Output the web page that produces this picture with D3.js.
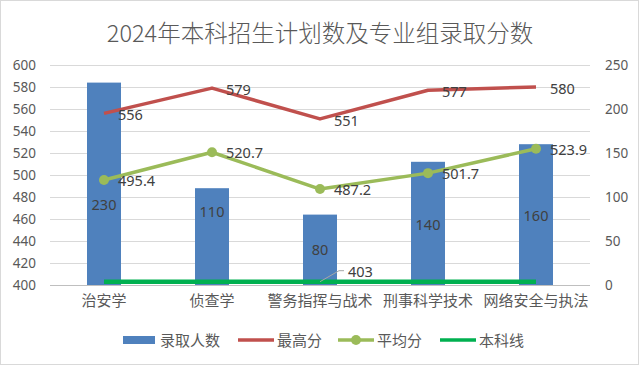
<!DOCTYPE html>
<html><head><meta charset="utf-8">
<script src="https://cdn.jsdelivr.net/npm/d3@7/dist/d3.min.js"></script>
<style>html,body{margin:0;padding:0;background:#fff;}svg{display:block;}</style>
</head><body>
<svg id="c" width="640" height="366"></svg>
<script>
const title = "2024年本科招生计划数及专业组录取分数";
const categories = ["治安学","侦查学","警务指挥与战术","刑事科学技术","网络安全与执法"];
const enrolled = [230,110,80,140,160];
const maxScore = [556,579,551,577,580];
const avgScore = [495.4,520.7,487.2,501.7,523.9];
const baseLine = [403,403,403,403,403];
const leftTicks = [400,420,440,460,480,500,520,540,560,580,600];
const rightTicks = [0,50,100,150,200,250];
const seriesNames = ["录取人数","最高分","平均分","本科线"];

const colors = {bar:"#4f81bd", max:"#c0504d", avg:"#9bbb59", base:"#00b050"};
const svg = d3.select("#c");
const fontCJK = "'Noto Sans CJK SC','Noto Sans',sans-serif";
const fontNum = "'Noto Sans','Liberation Sans',sans-serif";

svg.append("rect").attr("x",0.5).attr("y",0.5).attr("width",638).attr("height",364)
  .attr("fill","#fff").attr("stroke","#d9d9d9");

const L=50, R=590, T=65, B=285;
const x = d3.scaleBand().domain(categories).range([L,R]).paddingInner(0).paddingOuter(0);
const yL = d3.scaleLinear().domain([400,600]).range([B,T]);
const yR = d3.scaleLinear().domain([0,250]).range([B,T]);
const cx = d => x(d)+x.bandwidth()/2;

svg.append("text").attr("x",320).attr("y",42).attr("text-anchor","middle")
  .attr("font-family",fontCJK).attr("font-size",23.5).attr("font-weight",300)
  .attr("fill","#595959").text(title);

// gridlines
svg.append("g").selectAll("line").data(leftTicks).join("line")
  .attr("x1",L).attr("x2",R).attr("y1",d=>yL(d)+0.5).attr("y2",d=>yL(d)+0.5)
  .attr("stroke",d=>d===400?"#bfbfbf":"#d9d9d9").attr("stroke-width",1);

// left axis
const gL = svg.append("g").attr("transform",`translate(${L},0)`)
  .call(d3.axisLeft(yL).tickValues(leftTicks).tickSize(0).tickPadding(14));
gL.select(".domain").remove();
gL.selectAll("text").attr("font-family",fontNum).attr("font-size",13.5).attr("fill","#595959");

// right axis
const gR = svg.append("g").attr("transform",`translate(${R},0)`)
  .call(d3.axisRight(yR).tickValues(rightTicks).tickSize(0).tickPadding(15));
gR.select(".domain").remove();
gR.selectAll("text").attr("font-family",fontNum).attr("font-size",13.5).attr("fill","#595959");

// bottom axis labels
const gB = svg.append("g").attr("transform",`translate(0,${B})`)
  .call(d3.axisBottom(x).tickSize(0).tickPadding(10));
gB.select(".domain").remove();
gB.selectAll("text").attr("font-family",fontCJK).attr("font-size",15).attr("fill","#595959");

// bars
const bw = 34;
svg.append("g").selectAll("rect").data(categories).join("rect")
  .attr("x",d=>cx(d)-bw/2).attr("width",bw)
  .attr("y",(d,i)=>yR(enrolled[i])).attr("height",(d,i)=>B-yR(enrolled[i]))
  .attr("fill",colors.bar);
const barLabelShift = [21,-25,0,2,1];
svg.append("g").selectAll("text").data(categories).join("text")
  .attr("x",d=>cx(d)).attr("y",(d,i)=>(yR(enrolled[i])+B)/2+barLabelShift[i]+5)
  .attr("text-anchor","middle").attr("font-family",fontNum).attr("font-size",14.5)
  .attr("fill","#404040").text((d,i)=>enrolled[i]);

const line = d3.line().x((d,i)=>cx(categories[i])).y(d=>yL(d));
// baseline
svg.append("path").datum(baseLine).attr("d",line).attr("fill","none")
  .attr("stroke",colors.base).attr("stroke-width",4.5);
// max
svg.append("path").datum(maxScore).attr("d",line).attr("fill","none")
  .attr("stroke",colors.max).attr("stroke-width",3.5).attr("stroke-linejoin","round");
// avg
svg.append("path").datum(avgScore).attr("d",line).attr("fill","none")
  .attr("stroke",colors.avg).attr("stroke-width",3.5).attr("stroke-linejoin","round");
svg.append("g").selectAll("circle").data(avgScore).join("circle")
  .attr("cx",(d,i)=>cx(categories[i])).attr("cy",d=>yL(d)).attr("r",5).attr("fill",colors.avg);

// labels
svg.append("g").selectAll("text").data(maxScore).join("text")
  .attr("x",(d,i)=>cx(categories[i])+14).attr("y",d=>yL(d)+7)
  .attr("font-family",fontNum).attr("font-size",14.5).attr("fill","#404040").text(d=>d);
svg.append("g").selectAll("text").data(avgScore).join("text")
  .attr("x",(d,i)=>cx(categories[i])+14).attr("y",d=>yL(d)+6)
  .attr("font-family",fontNum).attr("font-size",14.5).attr("fill","#404040").text(d=>d.toFixed(1));
// baseline label with leader
const bx = cx(categories[2]), by = yL(baseLine[2]);
svg.append("path").attr("d",`M${bx},${by} L${bx+19},${by-11} L${bx+24},${by-11}`)
  .attr("fill","none").attr("stroke","#a6a6a6").attr("stroke-width",1);
svg.append("text").attr("x",bx+28).attr("y",by-5).attr("font-family",fontNum)
  .attr("font-size",14.5).attr("fill","#404040").text(baseLine[2]);

// legend
const lg = svg.append("g").attr("font-family",fontCJK).attr("font-size",15).attr("fill","#595959");
const ly = 340;
const items = [
  {x:123, type:"bar", c:colors.bar},
  {x:238, type:"line", c:colors.max},
  {x:338, type:"marker", c:colors.avg},
  {x:440, type:"line", c:colors.base}
];
items.forEach((it,i)=>{
  if(it.type==="bar"){
    lg.append("rect").attr("x",it.x).attr("y",ly-4).attr("width",32).attr("height",8).attr("fill",it.c);
  } else {
    lg.append("line").attr("x1",it.x).attr("x2",it.x+36).attr("y1",ly).attr("y2",ly)
      .attr("stroke",it.c).attr("stroke-width",3.5);
    if(it.type==="marker") lg.append("circle").attr("cx",it.x+18).attr("cy",ly).attr("r",5).attr("fill",it.c);
  }
  lg.append("text").attr("x",it.x+(it.type==="bar"?37:39)).attr("y",ly+5.5).text(seriesNames[i]);
});
</script>
</body></html>
